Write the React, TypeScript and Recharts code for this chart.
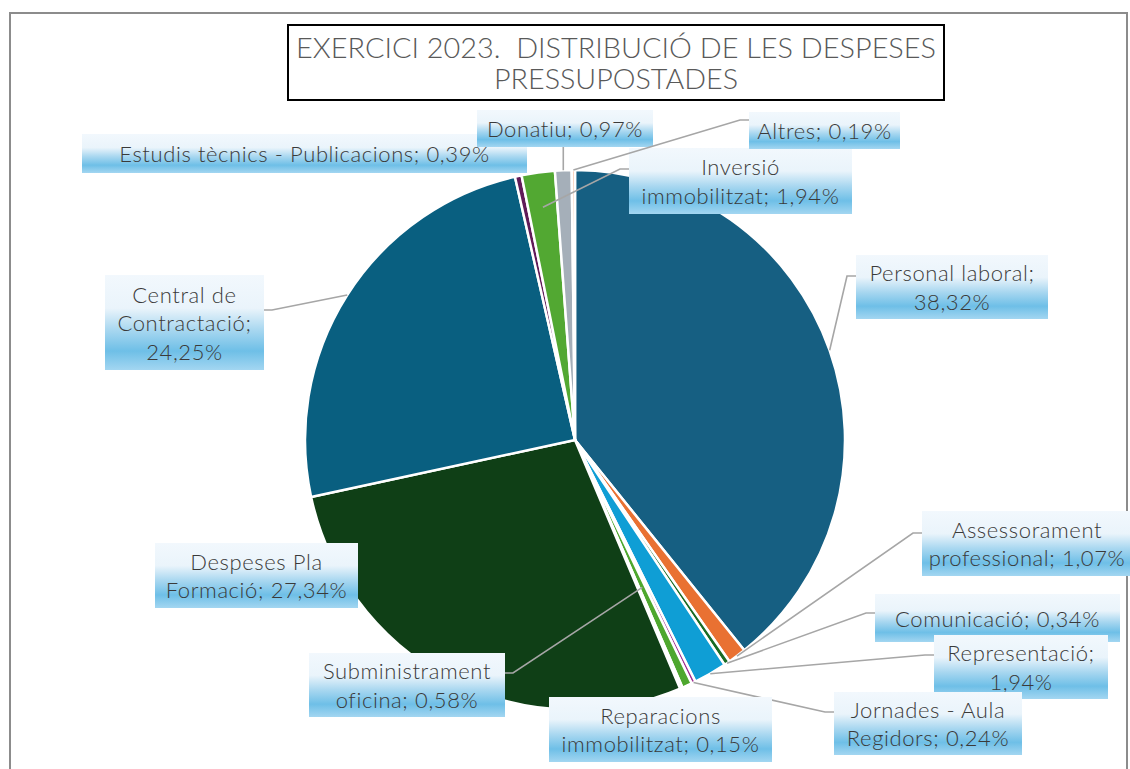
import { PieChart, Pie, Cell } from 'recharts';

const CATEGORIES = [
  'Personal laboral',
  'Assessorament professional',
  'Comunicació',
  'Representació',
  'Jornades - Aula Regidors',
  'Subministrament oficina',
  'Reparacions immobilitzat',
  'Despeses Pla Formació',
  'Central de Contractació',
  'Estudis tècnics - Publicacions',
  'Inversió immobilitzat',
  'Donatiu',
  'Altres',
];
const PERCENTS = [38.32, 1.07, 0.34, 1.94, 0.24, 0.58, 0.15, 27.34, 24.25, 0.39, 1.94, 0.97, 0.19];
const COLORS = [
  '#165F82', '#E97132', '#196B24', '#0F9ED5', '#A02B93', '#4EA72E', '#8F3A0E',
  '#0F3F16', '#095F80', '#601A58', '#52A832', '#A5AFB9', '#F6C6AD',
];
const TITLE_LINES = ['EXERCICI 2023.  DISTRIBUCIÓ DE LES DESPESES', 'PRESSUPOSTADES'];

// label boxes: position, words per line, leader side, leader y offset, anchor radius factor
type LabelBox = {
  x: number; y: number; w: number; h: number;
  lines: number[];
  side: 'left' | 'right' | 'bottom' | null;
  ay: number;
  r: number;
};
const LABEL_BOXES: LabelBox[] = [
  { x: 856, y: 255, w: 192, h: 64, lines: [2, 1], side: 'left', ay: 21, r: 1 },
  { x: 922, y: 511, w: 210, h: 65, lines: [1, 2], side: 'left', ay: 22, r: 1 },
  { x: 875, y: 594, w: 245, h: 48, lines: [2], side: 'left', ay: 19, r: 1 },
  { x: 934, y: 635, w: 174, h: 64, lines: [1, 1], side: 'left', ay: 20, r: 1 },
  { x: 834, y: 692, w: 188, h: 63, lines: [3, 2], side: 'left', ay: 20, r: 1 },
  { x: 309, y: 653, w: 196, h: 64, lines: [1, 2], side: 'right', ay: 20, r: 0.6 },
  { x: 549, y: 697, w: 223, h: 65, lines: [1, 2], side: null, ay: 0, r: 1 },
  { x: 155, y: 543, w: 203, h: 65, lines: [2, 2], side: null, ay: 0, r: 1 },
  { x: 105, y: 275, w: 159, h: 95, lines: [2, 1, 1], side: 'right', ay: 35, r: 1 },
  { x: 82, y: 134, w: 445, h: 39, lines: [5], side: null, ay: 0, r: 1 },
  { x: 629, y: 148, w: 223, h: 66, lines: [1, 2], side: 'left', ay: 21, r: 0.87 },
  { x: 477, y: 110, w: 176, h: 37, lines: [2], side: 'bottom', ay: 0, r: 1 },
  { x: 749, y: 112, w: 151, h: 37, lines: [2], side: 'left', ay: 8, r: 1 },
];

const data = CATEGORIES.map((name, i) => ({ name, value: PERCENTS[i] }));

const RAD = Math.PI / 180;
const LABEL_FONT = 'Lato, "Open Sans", sans-serif';

function fmt(v: number) {
  return v.toFixed(2).replace('.', ',') + '%';
}

function renderLabel(props: any) {
  const { cx, cy, midAngle, outerRadius, index } = props;
  const box = LABEL_BOXES[index];
  if (!box) return null;
  const words = `${CATEGORIES[index]}; ${fmt(PERCENTS[index])}`.split(' ');
  const lines: string[] = [];
  let k = 0;
  box.lines.forEach((n) => {
    lines.push(words.slice(k, k + n).join(' '));
    k += n;
  });
  const R = outerRadius * box.r;
  const px = cx + R * Math.cos(-midAngle * RAD);
  const py = cy + R * Math.sin(-midAngle * RAD);
  let leader: string | null = null;
  if (box.side === 'left') {
    const y = box.y + box.ay;
    leader = `${box.x},${y} ${box.x - 9},${y} ${px},${py}`;
  } else if (box.side === 'right') {
    const y = box.y + box.ay;
    leader = `${box.x + box.w},${y} ${box.x + box.w + 8},${y} ${px},${py}`;
  } else if (box.side === 'bottom') {
    leader = `${px},${box.y + box.h} ${px},${py}`;
  }
  const gid = `lblgrad-${index}`;
  const n = lines.length;
  return (
    <g key={`lbl-${index}`}>
      <defs>
        <linearGradient id={gid} x1="0" y1="0" x2="0" y2="1">
          <stop offset="0%" stopColor="#F2F8FD" />
          <stop offset="35%" stopColor="#EAF4FB" />
          <stop offset="58%" stopColor="#A8D7F0" />
          <stop offset="80%" stopColor="#6EBFE7" />
          <stop offset="100%" stopColor="#A3D6F1" />
        </linearGradient>
      </defs>
      {leader && (
        <polyline points={leader} fill="none" stroke="#A6A6A6" strokeWidth={1.6} />
      )}
      <rect x={box.x} y={box.y} width={box.w} height={box.h} fill={`url(#${gid})`} />
      {lines.map((t, i) => (
        <text
          key={i}
          x={box.x + box.w / 2}
          y={box.y + box.h / 2 + (i - (n - 1) / 2) * 28.5}
          textAnchor="middle"
          dominantBaseline="central"
          fontFamily={LABEL_FONT}
          fontWeight={300}
          fontSize={22}
          letterSpacing={0.6}
          fill="#3A3A3A"
        >
          {t}
        </text>
      ))}
    </g>
  );
}

export default function App() {
  return (
    <div
      style={{
        position: 'absolute',
        left: 0,
        top: 0,
        width: 1130,
        height: 769,
        background: '#fff',
        overflow: 'hidden',
      }}
    >
      <div
        style={{
          position: 'absolute',
          left: 9,
          top: 12,
          width: 1119,
          height: 800,
          border: '2px solid #8C8C8C',
          boxSizing: 'border-box',
        }}
      />
      <div style={{ position: 'absolute', left: 0, top: 0 }}>
        <PieChart width={1130} height={769}>
          <Pie
            data={data}
            dataKey="value"
            nameKey="name"
            cx={570}
            cy={435}
            outerRadius={270}
            startAngle={90}
            endAngle={-270}
            stroke="#fff"
            strokeWidth={2.5}
            label={renderLabel}
            labelLine={false}
            isAnimationActive={false}
          >
            {data.map((d, i) => (
              <Cell key={d.name} fill={COLORS[i]} />
            ))}
          </Pie>
        </PieChart>
      </div>
      <div
        style={{
          position: 'absolute',
          left: 287,
          top: 24,
          width: 658,
          height: 77,
          border: '2px solid #000',
          boxSizing: 'border-box',
          background: '#fff',
        }}
      >
        <svg width={654} height={73} style={{ display: 'block' }}>
          <text
            x={327}
            y={21}
            textAnchor="middle"
            dominantBaseline="central"
            fontFamily="Lato, sans-serif"
            fontWeight={300}
            fontSize={28}
            fill="#595959"
            textLength={640}
            lengthAdjust="spacingAndGlyphs"
            style={{ whiteSpace: 'pre' }}
          >
            {TITLE_LINES[0]}
          </text>
          <text
            x={327}
            y={52}
            textAnchor="middle"
            dominantBaseline="central"
            fontFamily="Lato, sans-serif"
            fontWeight={300}
            fontSize={28}
            fill="#595959"
            textLength={244}
            lengthAdjust="spacingAndGlyphs"
          >
            {TITLE_LINES[1]}
          </text>
        </svg>
      </div>
    </div>
  );
}
